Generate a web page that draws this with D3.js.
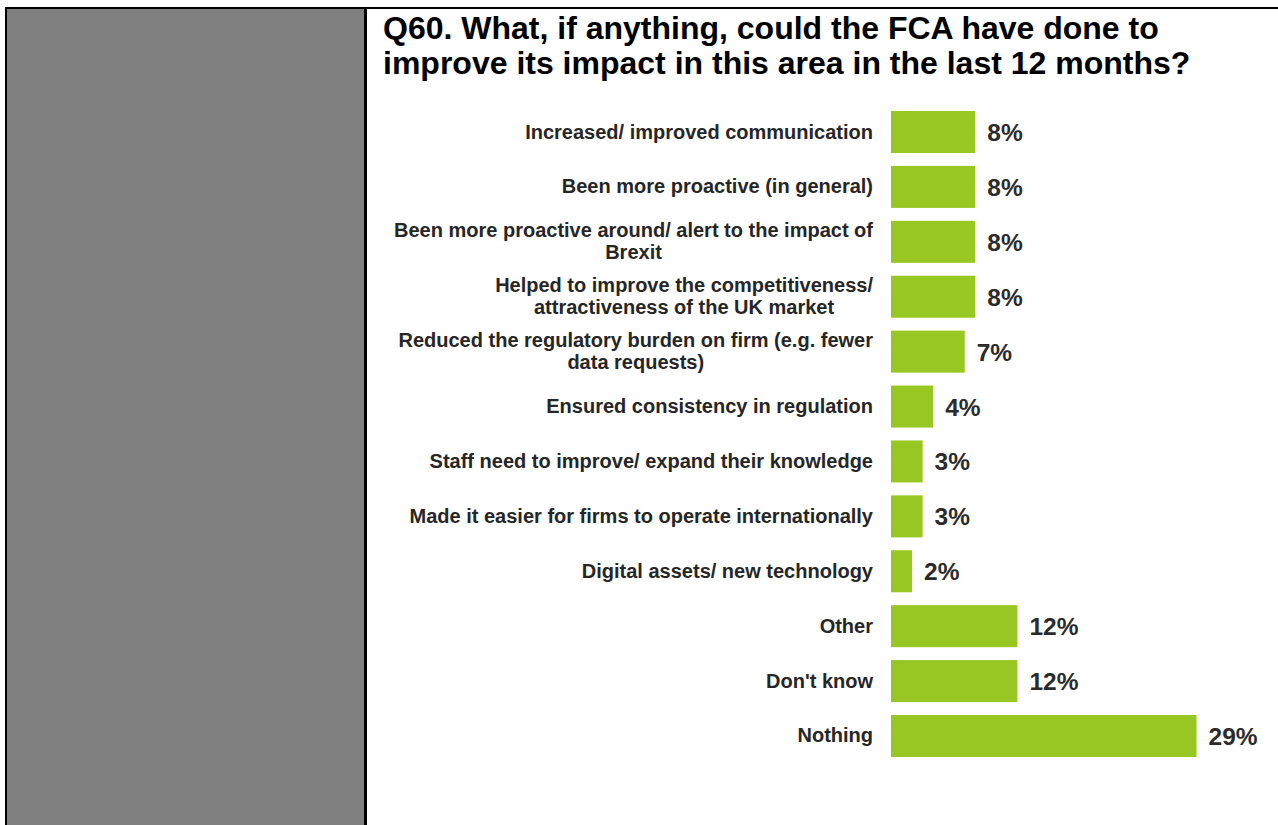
<!DOCTYPE html>
<html>
<head>
<meta charset="utf-8">
<script src="https://cdn.jsdelivr.net/npm/d3@7"></script>
<style>
  html, body { margin: 0; padding: 0; background: #ffffff; }
  svg { display: block; }
  text { font-family: "Liberation Sans", Arial, sans-serif; font-weight: bold; }
</style>
</head>
<body>
<svg id="chart" width="1278" height="825"></svg>
<script>
const titleLines = [
  "Q60. What, if anything, could the FCA have done to",
  "improve its impact in this area in the last 12 months?"
];
const categories = [
  "Increased/ improved communication",
  "Been more proactive (in general)",
  "Been more proactive around/ alert to the impact of\nBrexit",
  "Helped to improve the competitiveness/\nattractiveness of the UK market",
  "Reduced the regulatory burden on firm (e.g. fewer\ndata requests)",
  "Ensured consistency in regulation",
  "Staff need to improve/ expand their knowledge",
  "Made it easier for firms to operate internationally",
  "Digital assets/ new technology",
  "Other",
  "Don't know",
  "Nothing"
];
const values = [8, 8, 8, 8, 7, 4, 3, 3, 2, 12, 12, 29];

const svg = d3.select("#chart");

// Frame: grey side panel and black rules
svg.append("rect").attr("x", 7).attr("y", 9).attr("width", 357).attr("height", 816).attr("fill", "#808080");
svg.append("rect").attr("x", 5).attr("y", 7).attr("width", 1273).attr("height", 2).attr("fill", "#000");
svg.append("rect").attr("x", 5).attr("y", 7).attr("width", 2).attr("height", 818).attr("fill", "#000");
svg.append("rect").attr("x", 364).attr("y", 7).attr("width", 3).attr("height", 818).attr("fill", "#000");

// Title
svg.append("text")
  .attr("x", 383).attr("y", 39)
  .attr("font-size", 32).attr("fill", "#000")
  .selectAll("tspan").data(titleLines).join("tspan")
  .attr("x", 383).attr("dy", (d, i) => i === 0 ? 0 : 35)
  .text(d => d);

const x = d3.scaleLinear().domain([0, 29]).range([891, 1196.5]);
const y = d3.scaleBand().domain(categories).range([111, 757]).paddingInner(0.235).paddingOuter(0);

// Bars
svg.append("g").selectAll("rect").data(values).join("rect")
  .attr("x", x(0))
  .attr("y", (d, i) => y(categories[i]))
  .attr("width", d => x(d) - x(0))
  .attr("height", y.bandwidth())
  .attr("fill", "#98c723");

// Value labels
svg.append("g").selectAll("text").data(values).join("text")
  .attr("x", d => x(d) + 12)
  .attr("y", (d, i) => y(categories[i]) + y.bandwidth() / 2 + 9)
  .attr("font-size", 24.5)
  .attr("fill", "#2b2b2b")
  .text(d => d + "%");

// Category labels (right-aligned block, lines centred within)
const labelRight = 873;
const lineH = 22;
const lg = svg.append("g");
categories.forEach((c, i) => {
  const lines = c.split("\n");
  const cy = y(c) + y.bandwidth() / 2;
  const t = lg.append("text")
    .attr("font-size", 20)
    .attr("fill", "#262626")
    .attr("text-anchor", "middle");
  const spans = t.selectAll("tspan").data(lines).join("tspan")
    .attr("y", (d, j) => cy + 6.5 + (j - (lines.length - 1) / 2) * lineH)
    .text(d => d);
  let maxW = 0;
  spans.each(function() { maxW = Math.max(maxW, this.getComputedTextLength()); });
  spans.attr("x", labelRight - maxW / 2);
});
</script>
</body>
</html>
